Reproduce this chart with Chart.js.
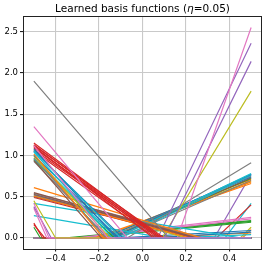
<!DOCTYPE html>
<html>
<head>
<meta charset="utf-8">
<script src="https://cdn.jsdelivr.net/npm/chart.js@4"></script>
<style>
  html, body { margin: 0; padding: 0; background: #fff; }
  canvas { display: block; }
</style>
</head>
<body>
<canvas id="chart" width="266" height="267"></canvas>
<script>
// --- Data ---
const titleText = ["Learned basis functions (", "η", "=0.05)"];
const xDomain = [-0.5, 0.5];
const xTicks = [-0.4, -0.2, 0.0, 0.2, 0.4];
const xTickLabels = ["\u22120.4", "\u22120.2", "0.0", "0.2", "0.4"];
const yTicks = [0.0, 0.5, 1.0, 1.5, 2.0, 2.5];
const yTickLabels = ["0.0", "0.5", "1.0", "1.5", "2.0", "2.5"];

// each basis function: value at x=-0.5, where it hits zero (null = no kink), value at x=0.5
const startVals = [
  1.12, 1.08, 1.06, 1.04, 1.02, 1.00, 0.99, 0.97, 0.96, 0.94, 0.93, 0.95, 1.35, 1.05,
  1.15, 1.13, 1.12, 1.10, 1.09, 1.07, 1.05, 1.11,
  1.90,
  0.61, 0.55, 0.54, 0.53, 0.52, 0.51, 0.50, 0.49, 0.53, 0.52,
  0.45, 0.42, 0.38, 0.36, 0.18, 0.13, 0.16, 0.42, 0.27,
  0,
  0, 0, 0, 0,
  0, 0, 0, 0, 0, 0, 0, 0, 0, 0, 0, 0, 0,
  0, 0, 0, 0, 0, 0, 0, 0, 0,
  0, 0, 0, 0, 0
];
const kinkVals = [
  -0.16, -0.12, -0.10, -0.14, -0.18, -0.11, -0.15, -0.17, -0.12, -0.19, -0.16, -0.13, -0.07, -0.09,
  0.09, 0.08, 0.10, 0.07, 0.09, 0.08, 0.06, 0.05,
  0.12,
  0.27, 0.25, 0.28, 0.24, 0.26, 0.22, 0.27, 0.23, 0.25, 0.20,
  -0.40, -0.43, -0.42, -0.44, -0.46, -0.47, -0.45, 0.45, 0.10,
  null,
  0.16, 0.07, 0.10, 0.09,
  -0.07, -0.12, -0.14, -0.10, -0.16, -0.18, -0.13, -0.15, -0.20, -0.11, -0.17, -0.19, -0.22,
  -0.30, -0.26, -0.35, -0.32, -0.28, 0.05, 0.00, 0.15, -0.10,
  0.33, 0.34, 0.38, 0.45, 0.46
];
const endVals = [
  0, 0, 0, 0, 0, 0, 0, 0, 0, 0, 0, 0, 0, 0,
  0, 0, 0, 0, 0, 0, 0, 0,
  0,
  0, 0, 0, 0, 0, 0, 0, 0, 0, 0,
  0, 0, 0, 0, 0, 0, 0, 0, 0,
  0,
  2.55, 2.36, 2.14, 1.78,
  0.91, 0.78, 0.77, 0.76, 0.75, 0.74, 0.73, 0.72, 0.71, 0.70, 0.68, 0.69, 0.66,
  0.25, 0.23, 0.21, 0.20, 0.19, 0.07, 0.06, 0.04, 0.09,
  0.77, 0.40, 0.42, 0.13, 0.10
];
const lineColors = [
  "#e377c2", "#1f77b4", "#17becf", "#17becf", "#ff7f0e", "#1f77b4", "#bcbd22", "#7f7f7f", "#17becf", "#8c564b", "#7f7f7f", "#2ca02c", "#e377c2", "#1f77b4",
  "#d62728", "#d62728", "#d62728", "#d62728", "#d62728", "#d62728", "#d62728", "#d62728",
  "#7f7f7f",
  "#ff7f0e", "#8c564b", "#7f7f7f", "#8c564b", "#7f7f7f", "#ff7f0e", "#8c564b", "#d62728", "#9467bd", "#bcbd22",
  "#bcbd22", "#e377c2", "#9467bd", "#e377c2", "#d62728", "#2ca02c", "#d62728", "#17becf", "#17becf",
  "#7f7f7f",
  "#e377c2", "#9467bd", "#9467bd", "#bcbd22",
  "#7f7f7f", "#17becf", "#1f77b4", "#17becf", "#7f7f7f", "#1f77b4", "#8c564b", "#2ca02c", "#ff7f0e", "#7f7f7f", "#ff7f0e", "#bcbd22", "#ff7f0e",
  "#e377c2", "#e377c2", "#2ca02c", "#2ca02c", "#2ca02c", "#1f77b4", "#ff7f0e", "#17becf", "#1f77b4",
  "#9467bd", "#d62728", "#17becf", "#bcbd22", "#ff7f0e"
];

// --- Helpers ---
function basisPoints(i) {
  const pts = [{ x: xDomain[0], y: startVals[i] }];
  if (kinkVals[i] !== null) pts.push({ x: kinkVals[i], y: 0 });
  pts.push({ x: xDomain[1], y: endVals[i] });
  return pts;
}

const datasets = startVals.map((_, i) => ({
  data: basisPoints(i),
  borderColor: lineColors[i],
  borderWidth: 1.2,
  pointRadius: 0,
  tension: 0,
  fill: false
}));

// --- Plugins: mpl-like title (italic eta) and full frame ---
const titlePlugin = {
  id: 'titlePlugin',
  afterDraw(chart) {
    const { ctx, chartArea } = chart;
    const normal = '10.5px "DejaVu Sans"';
    const italic = 'italic 10.5px "DejaVu Sans"';
    const fonts = [normal, italic, normal];
    ctx.save();
    let widths = titleText.map((t, i) => { ctx.font = fonts[i]; return ctx.measureText(t).width; });
    const total = widths.reduce((a, b) => a + b, 0);
    let x = (chartArea.left + chartArea.right) / 2 - total / 2;
    ctx.fillStyle = '#000';
    ctx.textBaseline = 'middle';
    ctx.textAlign = 'left';
    titleText.forEach((t, i) => {
      ctx.font = fonts[i];
      ctx.fillText(t, x, 9);
      x += widths[i];
    });
    ctx.restore();
  }
};

const framePlugin = {
  id: 'framePlugin',
  afterDatasetsDraw(chart) {
    const { ctx, chartArea: a } = chart;
    ctx.save();
    ctx.strokeStyle = '#222';
    ctx.lineWidth = 1;
    ctx.strokeRect(Math.round(a.left) + 0.5, Math.round(a.top) + 0.5,
      Math.round(a.right - a.left) - 1, Math.round(a.bottom - a.top));
    ctx.restore();
  }
};

const tickFont = { family: 'DejaVu Sans', size: 8.5 };

new Chart(document.getElementById('chart'), {
  type: 'line',
  data: { datasets },
  options: {
    responsive: false,
    animation: false,
    layout: { padding: { top: 16, right: 4, left: 0, bottom: 0 } },
    plugins: { legend: { display: false }, tooltip: { enabled: false } },
    scales: {
      x: {
        type: 'linear',
        min: -0.55,
        max: 0.55,
        afterBuildTicks: axis => { axis.ticks = xTicks.map(v => ({ value: v })); },
        afterFit: axis => { axis.height = 18.5; },
        ticks: {
          font: tickFont,
          color: '#000',
          padding: 2,
          maxRotation: 0,
          callback: (v) => xTickLabels[xTicks.findIndex(t => Math.abs(t - v) < 1e-9)]
        },
        grid: { color: '#c9c9c9', lineWidth: 1.1, tickLength: 3, tickColor: '#222' },
        border: { display: false }
      },
      y: {
        min: -0.128,
        max: 2.69,
        afterBuildTicks: axis => { axis.ticks = yTicks.map(v => ({ value: v })); },
        afterFit: axis => { axis.width = 23; },
        ticks: {
          font: tickFont,
          color: '#000',
          padding: 2,
          callback: (v) => yTickLabels[yTicks.findIndex(t => Math.abs(t - v) < 1e-9)]
        },
        grid: { color: '#c9c9c9', lineWidth: 1.1, tickLength: 3, tickColor: '#222' },
        border: { display: false }
      }
    }
  },
  plugins: [titlePlugin, framePlugin]
});
</script>
</body>
</html>
